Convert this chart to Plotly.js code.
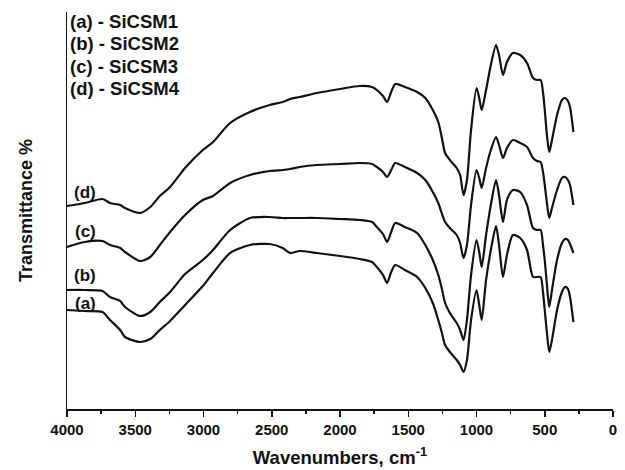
<!DOCTYPE html>
<html>
<head>
<meta charset="utf-8">
<script src="https://cdn.plot.ly/plotly-3.0.1.min.js"></script>
<style>html,body{margin:0;padding:0;background:#fff;}#chart{width:625px;height:470px;}</style>
</head>
<body>
<div id="chart"></div>
<script>
// Wavenumber grid (cm-1)
const wavenumbers = [4000,3870,3740,3685,3610,3575,3465,3390,3320,3245,3135,3005,2930,2805,2660,2515,2420,2365,2295,2170,2000,1855,1765,1730,1685,1655,1625,1595,1525,1435,1375,1320,1280,1255,1230,1195,1145,1120,1095,1070,1040,1000,980,962,930,895,857,835,806,777,733,680,630,586,557,530,513,498,484,467,447,410,374,352,330,315,290];

// Transmittance (arbitrary, offset) for each sample
const sicsm4 = [203,206,210,206,204,201,196,202,213,222,241,259,267,286,297,304,307,310,312,316,320,323,322,319,313,307,317,325,322,317,311,299,287,272,256,249,241,234,214,229,279,321,311,299,319,344,364,354,334,347,356,354,346,331,329,329,317,296,274,257,269,294,309,311,308,302,277];
const sicsm3 = [162,167,168,164,161,157,148,152,164,177,194,209,213,226,234,238,239,240,242,244,245,246,245,242,237,232,239,246,242,236,229,217,206,196,187,181,174,166,151,164,204,239,231,221,241,259,272,264,251,261,269,266,262,251,248,247,237,222,206,191,201,219,231,232,229,224,204];
const sicsm2 = [119,119,118,112,108,102,93,97,107,117,135,149,159,179,191,192,191,191,191,191,190,189,187,182,175,167,177,186,182,176,164,149,134,121,106,96,86,79,69,89,134,169,157,142,174,204,229,214,187,209,219,217,204,181,179,179,164,146,124,102,119,149,166,170,169,165,156];
const sicsm1 = [99,98,97,89,79,72,67,70,79,88,104,123,136,156,164,165,161,156,158,156,153,150,147,142,134,126,137,144,139,132,121,106,89,77,64,57,49,44,37,49,89,119,104,89,129,159,183,164,132,154,174,171,159,132,132,132,117,96,76,57,69,99,117,122,120,112,87];

const seriesNames = ["SiCSM1","SiCSM2","SiCSM3","SiCSM4"];
const seriesTags = ["(a)","(b)","(c)","(d)"];
const seriesData = [sicsm1, sicsm2, sicsm3, sicsm4];
const curveLabelX = 3868;
const curveLabelY = [106,134,178,217];

const xTickVals = [4000,3500,3000,2500,2000,1500,1000,500,0];
const xTickText = ["4000","3500","3000","2500","2000","1500","1000","500","0"];

const FONT = "Liberation Sans, Arial, sans-serif";

const traces = seriesData.map((ys, i) => ({
  x: wavenumbers, y: ys, type: 'scatter', mode: 'lines',
  name: seriesTags[i] + ' - ' + seriesNames[i],
  line: {color: '#111', width: 2.2, shape: 'spline', smoothing: 0.7},
  showlegend: false, hoverinfo: 'skip'
}));

const annotations = [];
seriesTags.forEach((t, i) => {
  annotations.push({
    xref: 'paper', yref: 'paper', x: 0.002, y: 1 - (9.7 + i * 22.2) / 397,
    xanchor: 'left', yanchor: 'middle', showarrow: false,
    text: t + ' - ' + seriesNames[i],
    font: {family: FONT, size: 18.5, color: '#111', weight: 'bold'}
  });
  annotations.push({
    xref: 'x', yref: 'y', x: curveLabelX, y: curveLabelY[i],
    xanchor: 'center', yanchor: 'middle', showarrow: false, text: t,
    font: {family: FONT, size: 17, color: '#111', weight: 'bold'}
  });
});

const layout = {
  width: 625, height: 470,
  margin: {l: 67, r: 12, t: 12, b: 61},
  paper_bgcolor: '#fff', plot_bgcolor: '#fff',
  showlegend: false,
  font: {family: FONT, color: '#111'},
  xaxis: {
    range: [4000, 0], tickvals: xTickVals, ticktext: xTickText,
    ticks: 'outside', ticklen: 6, tickwidth: 1.5, tickcolor: '#111',
    showline: true, linecolor: '#111', linewidth: 1.5,
    showgrid: false, zeroline: false,
    tickfont: {family: FONT, size: 15, color: '#111', weight: 'bold'},
    minor: {dtick: 250, tick0: 0, ticks: 'outside', ticklen: 3, tickwidth: 1.5, tickcolor: '#111', showgrid: false},
    title: {text: 'Wavenumbers, cm<sup>-1</sup>', standoff: 14,
      font: {family: FONT, size: 18.5, color: '#111', weight: 'bold'}}
  },
  yaxis: {
    range: [0, 397], showline: true, linecolor: '#111', linewidth: 1.5,
    showticklabels: false, ticks: '', showgrid: false, zeroline: false,
    title: {text: 'Transmittance %', standoff: 28,
      font: {family: FONT, size: 18, color: '#111', weight: 'bold'}}
  },
  annotations: annotations
};

Plotly.newPlot('chart', traces, layout, {displayModeBar: false, staticPlot: true});
</script>
</body>
</html>
